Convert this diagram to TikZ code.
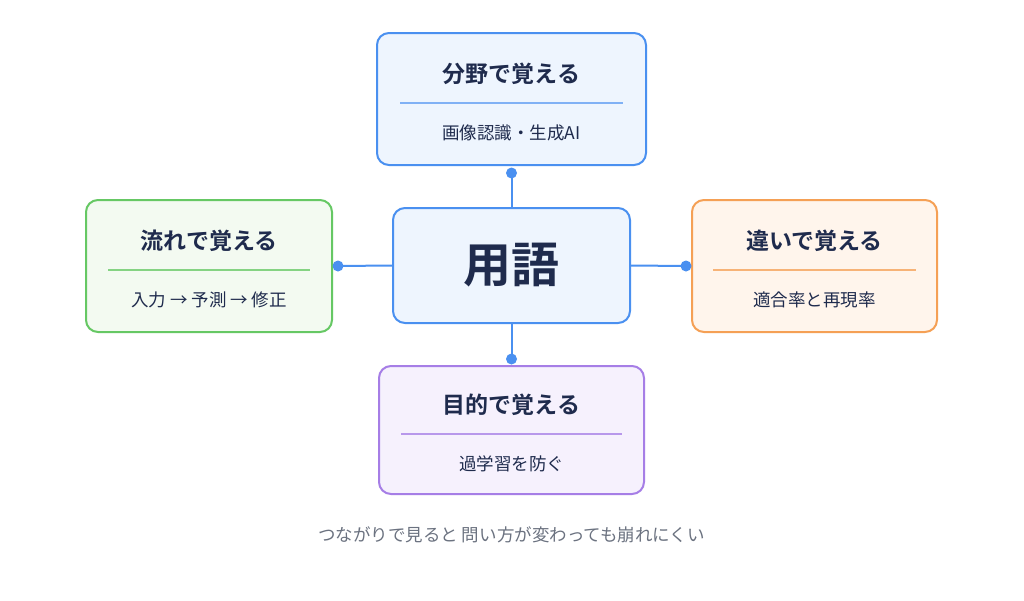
\documentclass[tikz,border=0pt]{standalone}
\usepackage{fontspec}
\setmainfont{Noto Sans CJK JP}
\newfontfamily\jpbold{Noto Sans CJK JP Bold}
\usetikzlibrary{positioning}
\definecolor{bluel}{HTML}{4A90F0}
\definecolor{bluef}{HTML}{EEF5FE}
\definecolor{greenl}{HTML}{66C864}
\definecolor{greenf}{HTML}{F3FAF1}
\definecolor{orangel}{HTML}{F5A055}
\definecolor{orangef}{HTML}{FFF5EC}
\definecolor{purplel}{HTML}{A67EE6}
\definecolor{purplef}{HTML}{F6F1FD}
\definecolor{navy}{HTML}{1F2B4D}
\definecolor{capgray}{HTML}{6B7280}
\tikzset{
  card/.style={draw=#1l, fill=#1f, line width=2pt, rounded corners=12pt, inner sep=0pt},
  ttl/.style={text=navy, font=\jpbold\fontsize{23}{27}\selectfont},
  sub/.style={text=navy, font=\fontsize{17.5}{21}\selectfont},
  link/.style={draw=bluel, line width=2pt},
  dot/.style={circle, fill=bluel, inner sep=0pt, minimum size=11pt}
}
\begin{document}
\begin{tikzpicture}[x=1pt,y=-1pt]
\useasboundingbox[fill=white] (0,0) rectangle (1024,600);
% boxes
\node[card=blue, minimum width=269pt, minimum height=132pt] (top) at (511.5,99) {};
\node[card=green, minimum width=246pt, minimum height=132pt] (left) at (209,266) {};
\node[card=orange, minimum width=245pt, minimum height=132pt] (right) at (814.5,266) {};
\node[card=purple, minimum width=265pt, minimum height=128pt] (bot) at (511.5,430) {};
% connectors
\node[dot] (dt) at (511.5,173) {};
\node[dot] (dl) at (338,266) {};
\node[dot] (dr) at (686,266) {};
\node[dot] (db) at (511.5,359) {};
\node[card=blue, minimum width=237pt, minimum height=115pt] (mid) at (511.5,265.5)
  {\jpbold\fontsize{48}{54}\selectfont\color{navy}用語};
\draw[link] (mid.north) -- (dt.center);
\draw[link] (mid.west) -- (dl.center);
\draw[link] (mid.east) -- (dr.center);
\draw[link] (mid.south) -- (db.center);
% texts
\node[ttl] (topt) at (511.5,74) {分野で覚える};
\draw[bluel!70, line width=1.2pt] (400,103) -- (623,103);
\node[sub] (tops) at (511.5,133) {画像認識・生成AI};
\node[ttl] (leftt) at (209,241) {流れで覚える};
\draw[greenl!80, line width=1.2pt] (108,270) -- (310,270);
\node[sub] (lefts) at (209,300) {入力 → 予測 → 修正};
\node[ttl] (rightt) at (814.5,241) {違いで覚える};
\draw[orangel!80, line width=1.2pt] (713,270) -- (916,270);
\node[sub] (rights) at (814.5,300) {適合率と再現率};
\node[ttl] (bott) at (511.5,405) {目的で覚える};
\draw[purplel!80, line width=1.2pt] (401,434) -- (622,434);
\node[sub] (bots) at (511.5,464) {過学習を防ぐ};
% caption
\node[text=capgray, font=\fontsize{17.5}{21}\selectfont] (cap) at (511.5,535) {つながりで見ると 問い方が変わっても崩れにくい};
\end{tikzpicture}
\end{document}
